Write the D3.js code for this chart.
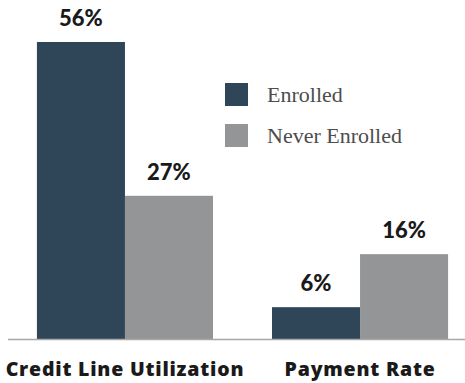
<!DOCTYPE html>
<html>
<head>
<meta charset="utf-8">
<script src="https://cdn.jsdelivr.net/npm/d3@7"></script>
<style>
  html, body { margin: 0; padding: 0; background: #fff; }
  svg { display: block; }
</style>
</head>
<body>
<svg id="chart" width="465" height="383"></svg>
<script>
// Data
const categories = ["Credit Line Utilization", "Payment Rate"];
const seriesNames = ["Enrolled", "Never Enrolled"];
const enrolled = [56, 6];
const neverEnrolled = [27, 16];
const colors = ["#2f4658", "#949597"];

const rows = categories.map((c, i) => ({
  category: c,
  values: [
    { series: seriesNames[0], value: enrolled[i] },
    { series: seriesNames[1], value: neverEnrolled[i] }
  ]
}));

const svg = d3.select("#chart");
const baseY = 339;

const x0 = d3.scaleBand()
  .domain(categories)
  .range([8, 477])
  .paddingInner(0.251)
  .paddingOuter(0.123);

const x1 = d3.scaleBand()
  .domain(seriesNames)
  .range([0, x0.bandwidth()])
  .padding(0);

const y = d3.scaleLinear()
  .domain([0, 56])
  .range([baseY, 42]);

const color = d3.scaleOrdinal().domain(seriesNames).range(colors);

// Bars
const groups = svg.selectAll("g.group")
  .data(rows)
  .join("g")
  .attr("class", "group")
  .attr("transform", d => `translate(${x0(d.category)},0)`);

groups.selectAll("rect")
  .data(d => d.values)
  .join("rect")
  .attr("x", d => x1(d.series))
  .attr("y", d => y(d.value))
  .attr("width", x1.bandwidth())
  .attr("height", d => baseY - y(d.value))
  .attr("fill", d => color(d.series));

// Value labels
groups.selectAll("text.value")
  .data(d => d.values)
  .join("text")
  .attr("class", "value")
  .attr("x", d => x1(d.series) + x1.bandwidth() / 2)
  .attr("y", d => y(d.value) - 16)
  .attr("text-anchor", "middle")
  .attr("font-family", "Lato, 'Open Sans', sans-serif")
  .attr("font-weight", 900)
  .attr("font-size", 22)
  .attr("fill", "#1a1a1a")
  .text(d => d.value + "%");

// Baseline axis
const axis = svg.append("g")
  .attr("transform", `translate(0,${baseY})`)
  .call(d3.axisBottom(x0).tickSize(0).tickPadding(23));
axis.select(".domain")
  .attr("d", "M8,0.5H465")
  .attr("stroke", "#a8a8a8")
  .attr("stroke-width", 1.6);
axis.selectAll(".tick text")
  .attr("font-family", "'Open Sans', Lato, sans-serif")
  .attr("font-weight", 800)
  .attr("font-size", 19.5)
  .attr("letter-spacing", 0.8)
  .attr("fill", "#1a1a1a");

// Legend
const legend = svg.append("g").attr("transform", "translate(225,83)");
const items = legend.selectAll("g")
  .data(seriesNames)
  .join("g")
  .attr("transform", (d, i) => `translate(0,${i * 41})`);
items.append("rect")
  .attr("width", 23)
  .attr("height", 23)
  .attr("fill", d => color(d));
items.append("text")
  .attr("x", 42)
  .attr("y", 19)
  .attr("font-family", "'Liberation Serif', 'DejaVu Serif', serif")
  .attr("font-size", 22)
  .attr("fill", "#4d4d4d")
  .text(d => d);
</script>
</body>
</html>
